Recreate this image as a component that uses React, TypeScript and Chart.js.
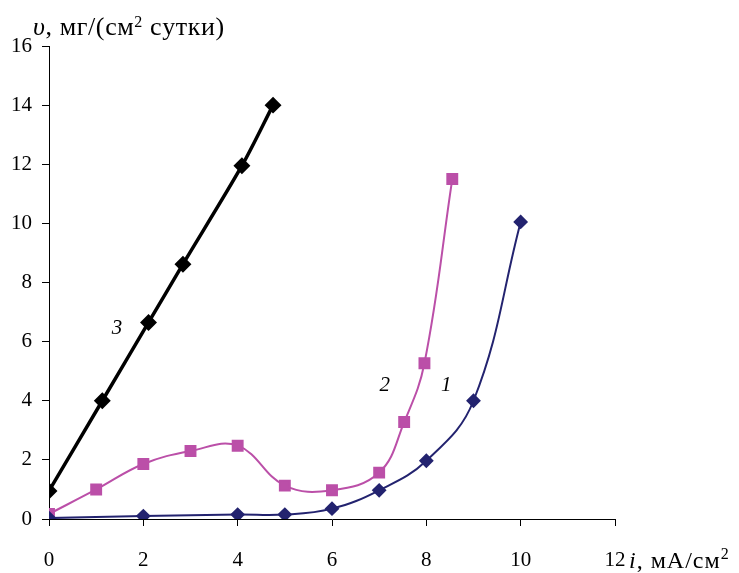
import React, { useEffect, useRef } from "react";
import { Chart, registerables } from "chart.js";

Chart.register(...registerables);

const xTicks = [0, 2, 4, 6, 8, 10, 12];
const yTicks = [0, 2, 4, 6, 8, 10, 12, 14, 16];

const series1X = [0, 2, 4, 5, 6, 7, 8, 9, 10];
const series1Y = [0.03, 0.1, 0.15, 0.15, 0.35, 0.97, 1.97, 4.0, 10.05];

const series2X = [0, 1, 2, 3, 4, 5, 6, 7, 7.53, 7.96, 8.55];
const series2Y = [0.17, 1.0, 1.86, 2.3, 2.48, 1.13, 0.97, 1.57, 3.28, 5.27, 11.5];

const series3X = [0, 1.13, 2.11, 2.84, 4.09, 4.75];
const series3Y = [0.95, 4.0, 6.65, 8.62, 11.95, 14.0];

const curveLabels = ["1", "2", "3"];
const curveLabelX = [8.42, 7.12, 1.44];
const curveLabelY = [4.5, 4.5, 6.43];

const SERIF = "Liberation Serif";

Chart.defaults.font.family = SERIF;

const toPoints = (xs: number[], ys: number[]) => xs.map((x, i) => ({ x, y: ys[i] }));

type Part = { text: string; font: string; dy?: number };

function drawRich(ctx: CanvasRenderingContext2D, x: number, y: number, parts: Part[], spacing: number) {
  let cx = x;
  for (const p of parts) {
    ctx.font = p.font;
    for (const ch of Array.from(p.text)) {
      ctx.fillText(ch, cx, y + (p.dy || 0));
      cx += ctx.measureText(ch).width + spacing;
    }
  }
}

const textPlugin = {
  id: "texts",
  afterDraw(chart: any) {
    const ctx: CanvasRenderingContext2D = chart.ctx;
    ctx.save();
    ctx.fillStyle = "#000";
    ctx.textAlign = "left";
    ctx.textBaseline = "alphabetic";
    drawRich(
      ctx,
      33,
      35,
      [
        { text: "υ", font: `italic 26px "${SERIF}"` },
        { text: ", мг/(см", font: `26px "${SERIF}"` },
        { text: "2", font: `16px "${SERIF}"`, dy: -8 },
        { text: " сутки)", font: `26px "${SERIF}"` },
      ],
      0.6
    );
    drawRich(
      ctx,
      629,
      568,
      [
        { text: "i", font: `italic 24px "${SERIF}"` },
        { text: ", мА/см", font: `24px "${SERIF}"` },
        { text: "2", font: `16px "${SERIF}"`, dy: -9 },
      ],
      1
    );
    const xs = chart.scales.x;
    const ys = chart.scales.y;
    ctx.font = `italic 21px "${SERIF}"`;
    ctx.textAlign = "center";
    ctx.textBaseline = "middle";
    curveLabels.forEach((t, i) => {
      ctx.fillText(t, xs.getPixelForValue(curveLabelX[i]), ys.getPixelForValue(curveLabelY[i]));
    });
    ctx.restore();
  },
};

export default function App() {
  const ref = useRef<HTMLCanvasElement | null>(null);
  useEffect(() => {
    if (!ref.current) return;
    const chart = new Chart(ref.current, {
      type: "line",
      data: {
        datasets: [
          {
            label: "1",
            data: toPoints(series1X, series1Y),
            borderColor: "#23236F",
            backgroundColor: "#23236F",
            borderWidth: 2,
            pointStyle: "rectRot",
            pointRadius: 6,
            tension: 0.4,
          },
          {
            label: "2",
            data: toPoints(series2X, series2Y),
            borderColor: "#BB4FA8",
            backgroundColor: "#BB4FA8",
            borderWidth: 2,
            pointStyle: "rect",
            pointRadius: 7,
            tension: 0.4,
          },
          {
            label: "3",
            data: toPoints(series3X, series3Y),
            borderColor: "#000",
            backgroundColor: "#000",
            borderWidth: 3.5,
            pointStyle: "rectRot",
            pointRadius: 6,
            tension: 0.3,
          },
        ],
      },
      options: {
        responsive: false,
        animation: false,
        devicePixelRatio: 1,
        layout: { padding: { top: 46, right: 124, left: 0, bottom: 0 } },
        plugins: { legend: { display: false }, tooltip: { enabled: false } },
        scales: {
          x: {
            type: "linear",
            min: 0,
            max: 12,
            afterFit: (s: any) => {
              s.height = 54;
            },
            afterBuildTicks: (s: any) => {
              s.ticks = xTicks.map((v) => ({ value: v }));
            },
            ticks: { color: "#000", font: { family: SERIF, size: 21 }, padding: 22 },
            grid: { display: true, drawOnChartArea: false, drawTicks: true, tickLength: 7, color: "#000" },
            border: { display: true, color: "#000", width: 1 },
          },
          y: {
            type: "linear",
            min: 0,
            max: 16,
            afterFit: (s: any) => {
              s.width = 49;
            },
            afterBuildTicks: (s: any) => {
              s.ticks = yTicks.map((v) => ({ value: v }));
            },
            ticks: { color: "#000", font: { family: SERIF, size: 21 }, padding: 10 },
            grid: { display: true, drawOnChartArea: false, drawTicks: true, tickLength: 7, color: "#000" },
            border: { display: true, color: "#000", width: 1 },
          },
        },
      },
      plugins: [textPlugin],
    } as any);
    return () => chart.destroy();
  }, []);
  return (
    <div style={{ position: "fixed", left: 0, top: 0, width: 739, height: 573, background: "#fff" }}>
      <canvas ref={ref} width={739} height={573} style={{ width: 739, height: 573 }} />
    </div>
  );
}
